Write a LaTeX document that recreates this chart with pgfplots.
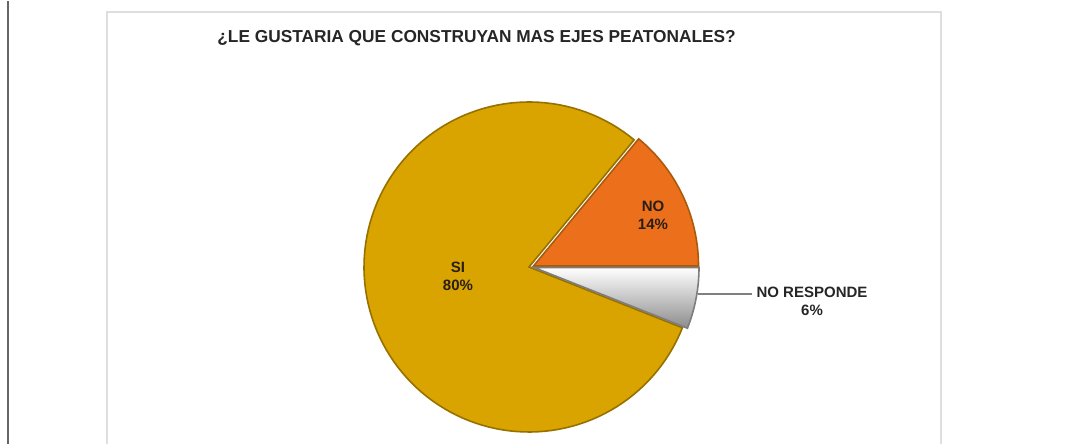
\documentclass[border=0pt]{standalone}
\usepackage{pgfplots}
\pgfplotsset{compat=1.18}
\usepackage{fontspec}
\setmainfont{Liberation Sans}
\definecolor{si}{RGB}{217,164,0}
\definecolor{siedge}{RGB}{150,112,0}
\definecolor{no}{RGB}{236,112,28}
\definecolor{noedge}{RGB}{170,90,10}
\definecolor{nrbot}{RGB}{140,140,140}
\definecolor{nrmid}{RGB}{185,185,185}
\definecolor{nredge}{RGB}{125,125,125}
\definecolor{frame}{RGB}{222,222,222}
\definecolor{lbl}{RGB}{40,30,20}
% data (percent)
\def\vNO{14}
\def\vSI{80}
\def\vNR{6}
\pgfmathsetmacro{\aA}{\vNO*3.6}
\pgfmathsetmacro{\aB}{(\vNO+\vSI)*3.6}
\pgfmathsetmacro{\aC}{(\vNO+\vSI+\vNR)*3.6}
\newcommand{\slice}[5]{%
  \addplot[#5, domain=#1:#2, samples=120, variable=\t]
    ({531+#3+165*cos(\t)},{177+#4+165*sin(\t)}) -- (axis cs:531+#3,177+#4) -- cycle;
}
\begin{document}
\begin{tikzpicture}
\begin{axis}[
  scale only axis, width=543.5pt, height=221.5pt,
  xmin=0, xmax=1087, ymin=0, ymax=443,
  hide axis, clip=false]
\path (axis cs:0,0) rectangle (axis cs:1087,443);
% page border and chart frame
\draw[black!60, line width=1pt] (axis cs:8,0) -- (axis cs:8,443);
\draw[frame, line width=1pt] (axis cs:107,0) -- (axis cs:107,432) -- (axis cs:941,432) -- (axis cs:941,0);
% slices
\slice{\aA}{\aB}{-2}{0}{fill=si, draw=siedge, line width=0.8pt}
\slice{0}{\aA}{2.5}{1}{fill=no, draw=noedge, line width=0.8pt}
\slice{\aB}{\aC}{3}{-0.5}{top color=white, middle color=nrmid, bottom color=nrbot, draw=nredge, line width=0.8pt}
% title
\node[anchor=west, font=\fontsize{8.65}{10}\selectfont\bfseries, text=black!85, inner sep=0pt]
  at (axis cs:217,406) {¿LE GUSTARIA QUE CONSTRUYAN MAS EJES PEATONALES?};
% labels
\node[align=center, font=\fontsize{7.5}{9}\selectfont\bfseries, text=lbl] at (axis cs:458,168) {SI\\80\%};
\node[align=center, font=\fontsize{7.5}{9}\selectfont\bfseries, text=lbl] at (axis cs:653,229) {NO\\14\%};
\draw[gray, line width=0.6pt] (axis cs:698,150) -- (axis cs:752,150);
\node[align=center, font=\fontsize{7.5}{9}\selectfont\bfseries, text=black!85] at (axis cs:812,143) {NO RESPONDE\\6\%};
\end{axis}
\end{tikzpicture}
\end{document}
